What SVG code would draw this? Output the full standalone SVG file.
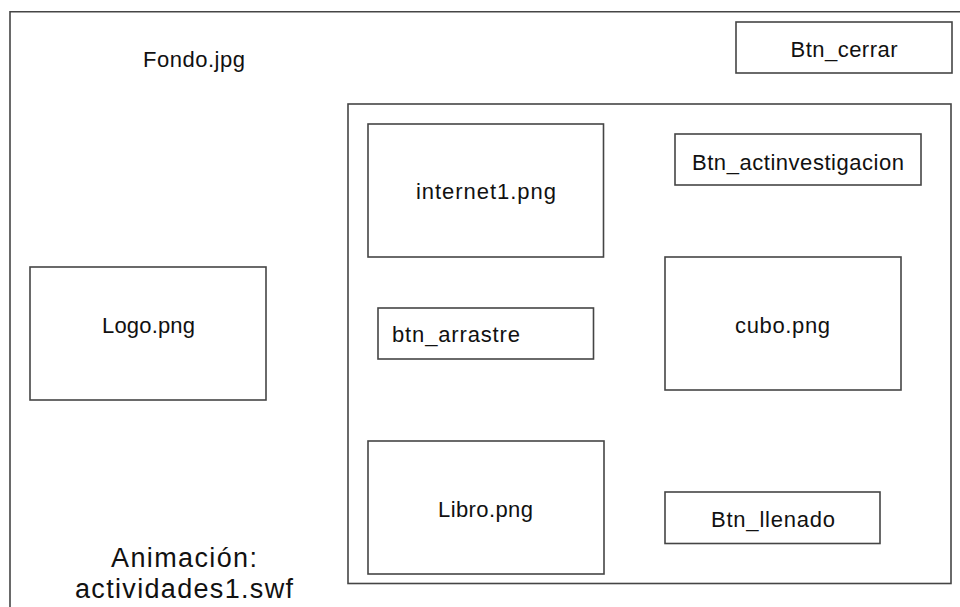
<svg xmlns="http://www.w3.org/2000/svg" width="960" height="607" viewBox="0 0 960 607">
<style>
.box{fill:#fff;stroke:#454545;stroke-width:1.6}
.frame{fill:none;stroke:#454545;stroke-width:1.6}
text{font-family:"Liberation Sans","Open Sans",sans-serif;fill:#111;font-size:22px}
.c{text-anchor:middle}
.big{font-size:27px}
</style>
<rect width="960" height="607" fill="#fff"/>
<g id="fondo">
<path class="frame" d="M10,620 V11.8 H970"/>
<text class="c" x="194" y="67" textLength="102">Fondo.jpg</text>
</g>
<g id="btn_cerrar">
<rect class="box" x="736" y="22" width="216" height="51"/>
<text class="c" x="844" y="57" textLength="107">Btn_cerrar</text>
</g>
<g id="contenedor">
<rect class="box" x="348" y="104" width="603" height="479.5"/>
</g>
<g id="internet1">
<rect class="box" x="368" y="124" width="235.5" height="133"/>
<text class="c" x="486" y="199" textLength="140">internet1.png</text>
</g>
<g id="btn_actinvestigacion">
<rect class="box" x="675" y="134" width="246" height="51"/>
<text class="c" x="798" y="170" textLength="212">Btn_actinvestigacion</text>
</g>
<g id="cubo">
<rect class="box" x="665" y="257" width="236" height="133"/>
<text class="c" x="782.5" y="333" textLength="95">cubo.png</text>
</g>
<g id="btn_arrastre">
<rect class="box" x="378" y="308" width="215.5" height="51"/>
<text x="392" y="342" textLength="128">btn_arrastre</text>
</g>
<g id="logo">
<rect class="box" x="30" y="267" width="236" height="133"/>
<text class="c" x="148.5" y="333" textLength="93">Logo.png</text>
</g>
<g id="libro">
<rect class="box" x="368" y="441" width="236" height="133"/>
<text class="c" x="485.5" y="517" textLength="95">Libro.png</text>
</g>
<g id="btn_llenado">
<rect class="box" x="665" y="492" width="215" height="51.5"/>
<text class="c" x="773" y="527" textLength="124">Btn_llenado</text>
</g>
<g id="animacion">
<text class="c big" x="184" y="567" textLength="146">Animación:</text>
<text class="c big" x="184" y="598" textLength="218">actividades1.swf</text>
</g>
<g id="connectors"></g>
</svg>
